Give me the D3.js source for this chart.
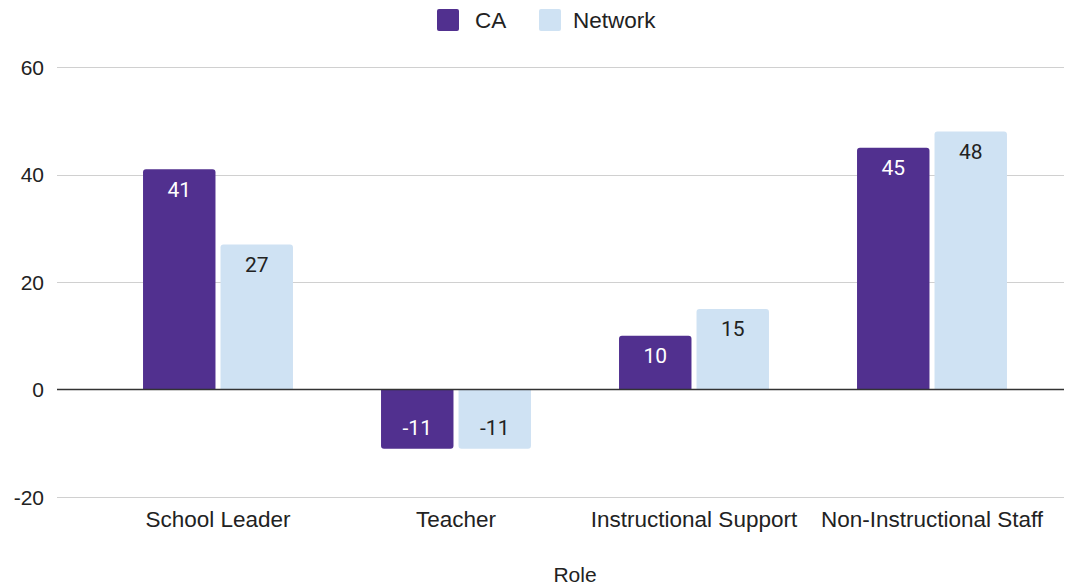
<!DOCTYPE html>
<html><head><meta charset="utf-8">
<script src="https://cdn.jsdelivr.net/npm/d3@7"></script>
<style>body{margin:0;background:#fff}svg{display:block}</style>
</head><body>
<svg id="c" width="1078" height="588"></svg>
<script>
const categories = ["School Leader", "Teacher", "Instructional Support", "Non-Instructional Staff"];
const seriesNames = ["CA", "Network"];
const caValues = [41, -11, 10, 45];
const networkValues = [27, -11, 15, 48];
const yTicks = [-20, 0, 20, 40, 60];
const colors = {CA: "#51308f", Network: "#cfe2f3"};
const labelColors = {CA: "#ffffff", Network: "#222222"};
const xTitle = "Role";

const svg = d3.select("#c");
const font = "Liberation Sans, Arial, Helvetica, sans-serif";
const y = d3.scaleLinear().domain([-20, 60]).range([497, 67]);
const x = d3.scaleBand().domain(categories).range([99, 1051]).paddingInner(0.37).paddingOuter(0.185);
const xs = d3.scaleBand().domain(seriesNames).range([0, x.bandwidth()]).paddingInner(0.065);

// grid
const grid = svg.append("g");
grid.selectAll("line").data(yTicks.filter(t => t !== 0)).join("line")
  .attr("x1", 57).attr("x2", 1064)
  .attr("y1", d => Math.round(y(d)) + 0.5).attr("y2", d => Math.round(y(d)) + 0.5)
  .attr("stroke", "#d0d0d0").attr("stroke-width", 1);

// y axis labels
const yAxis = d3.axisLeft(y).tickValues(yTicks).tickFormat(d => String(d)).tickSize(0).tickPadding(0);
const ya = svg.append("g").attr("transform", "translate(44,0)").call(yAxis);
ya.select(".domain").remove();
ya.selectAll("text").attr("font-family", font).attr("font-size", 21).attr("fill", "#222").attr("dy", "0.35em");

// bars
const data = [];
categories.forEach((c, i) => {
  data.push({cat: c, s: "CA", v: caValues[i]});
  data.push({cat: c, s: "Network", v: networkValues[i]});
});
function barPath(d) {
  const x0 = x(d.cat) + xs(d.s), w = xs.bandwidth();
  const y0 = y(0), y1 = y(d.v), r = 3;
  if (d.v >= 0) {
    return `M${x0},${y0}V${y1 + r}Q${x0},${y1} ${x0 + r},${y1}H${x0 + w - r}Q${x0 + w},${y1} ${x0 + w},${y1 + r}V${y0}Z`;
  } else {
    return `M${x0},${y0}V${y1 - r}Q${x0},${y1} ${x0 + r},${y1}H${x0 + w - r}Q${x0 + w},${y1} ${x0 + w},${y1 - r}V${y0}Z`;
  }
}
svg.append("g").selectAll("path").data(data).join("path")
  .attr("d", barPath).attr("fill", d => colors[d.s]);

// zero line
svg.append("line").attr("x1", 57).attr("x2", 1064)
  .attr("y1", y(0)).attr("y2", y(0)).attr("stroke", "#333").attr("stroke-width", 1.5);

// data labels
svg.append("g").selectAll("text").data(data).join("text")
  .attr("x", d => x(d.cat) + xs(d.s) + xs.bandwidth() / 2)
  .attr("y", d => d.v >= 0 ? y(d.v) + 20 : y(d.v) - 21)
  .attr("dy", "0.36em")
  .attr("text-anchor", "middle")
  .attr("font-family", "Roboto, sans-serif").attr("font-size", 21)
  .attr("fill", d => labelColors[d.s])
  .text(d => String(d.v));

// x axis labels
const xAxis = d3.axisBottom(x).tickSize(0).tickPadding(0);
const xa = svg.append("g").attr("transform", "translate(0,519)").call(xAxis);
xa.select(".domain").remove();
xa.selectAll("text").attr("font-family", font).attr("font-size", 22.5).attr("fill", "#222").attr("dy", "0.35em");

// x title
svg.append("text").attr("x", 575).attr("y", 575).attr("dy", "0.35em")
  .attr("text-anchor", "middle").attr("font-family", font).attr("font-size", 21).attr("fill", "#222")
  .text(xTitle);

// legend
const legendItems = [{name: "CA", sx: 437, tx: 475}, {name: "Network", sx: 539, tx: 573}];
const lg = svg.append("g");
lg.selectAll("rect").data(legendItems).join("rect")
  .attr("x", d => d.sx).attr("y", 9).attr("width", 22).attr("height", 22).attr("rx", 2)
  .attr("fill", d => colors[d.name]);
lg.selectAll("text").data(legendItems).join("text")
  .attr("x", d => d.tx).attr("y", 20).attr("dy", "0.35em")
  .attr("font-family", font).attr("font-size", 22.5).attr("fill", "#222")
  .text(d => d.name);
</script>
</body></html>
